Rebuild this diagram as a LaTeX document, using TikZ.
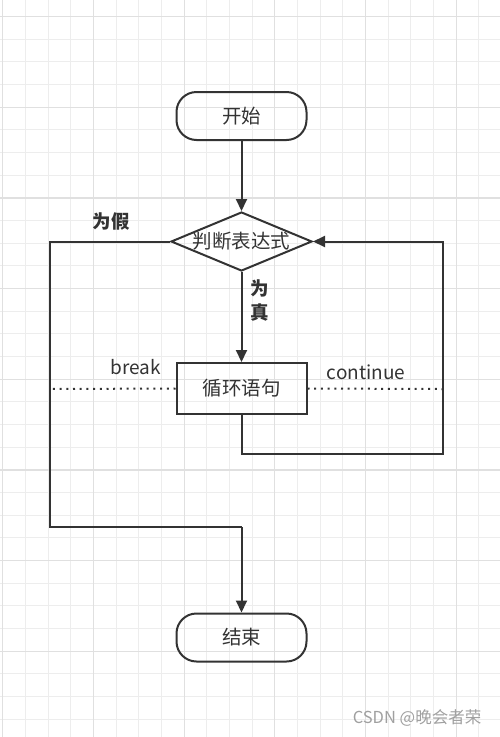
\documentclass[tikz,border=0pt]{standalone}
\usepackage{fontspec}
\setmainfont{Noto Sans CJK SC}
\usetikzlibrary{shapes.geometric,arrows.meta}
\definecolor{ink}{HTML}{333333}
\definecolor{gminor}{HTML}{EDEDED}
\definecolor{gmajor}{HTML}{E0E0E0}
\definecolor{wmgray}{HTML}{A0A0A0}
\tikzset{
  term/.style={draw=ink, line width=2pt, rounded corners=20pt, minimum width=130pt, minimum height=48pt, inner sep=0pt, text=ink, font=\fontsize{19.5}{21}\selectfont},
  proc/.style={draw=ink, line width=2pt, minimum width=130pt, minimum height=51pt, inner sep=0pt, text=ink, font=\fontsize{19.5}{21}\selectfont},
  decide/.style={draw=ink, line width=2pt, diamond, aspect=2.4, minimum width=141pt, minimum height=59pt, inner sep=0pt, text=ink, font=\fontsize{19.5}{21}\selectfont},
  flow/.style={draw=ink, line width=2pt, -{Triangle[length=12pt,width=11pt]}},
  plain/.style={draw=ink, line width=2pt},
  dotline/.style={draw=ink, line width=2pt, dash pattern=on 2pt off 4.7pt},
  lbl/.style={text=ink, font=\fontsize{18.5}{20}\selectfont\bfseries, inner sep=0pt},
  word/.style={text=ink, font=\fontsize{19}{21}\selectfont, inner sep=0pt},
}
\begin{document}
\begin{tikzpicture}[x=1pt,y=-1pt]
\useasboundingbox (0,0) rectangle (500,737);
\fill[white] (0,0) rectangle (500,737);
% grid
\foreach \i in {0,...,22} {
  \draw[gminor, line width=1pt] ({2.8+22.67*\i},0) -- ({2.8+22.67*\i},737);
}
\foreach \i in {0,...,32} {
  \draw[gminor, line width=1pt] (0,{16.5+22.67*(\i-1)}) -- (500,{16.5+22.67*(\i-1)});
}
\foreach \i in {0,...,5} {
  \draw[gmajor, line width=1.3pt] ({2.8+90.68*\i},0) -- ({2.8+90.68*\i},737);
}
\foreach \i in {0,...,8} {
  \draw[gmajor, line width=1.3pt] (0,{16.5+90.68*\i}) -- (500,{16.5+90.68*\i});
}
% nodes
\node[term] (start) at (241.5,116) {开始};
\node[decide] (cond) at (241.5,241.5) {判断表达式};
\node[proc] (body) at (241.5,388.5) {循环语句};
\node[term] (stop) at (241.5,637.5) {结束};
% coordinates
\coordinate (fl) at (50,527);
\coordinate (fm) at (241.5,527);
\coordinate (rb) at (443,454);
\coordinate (bl) at (50,389);
\coordinate (br) at (443,389);
% connectors
\draw[flow] (start) -- (cond);
\draw[flow] (cond) -- (body);
\draw[plain] (cond.west) -| (fl) -- (fm);
\draw[flow] (fm) -- (stop.north);
\draw[flow] (body.south) |- (rb) |- (cond.east);
\draw[dotline] (body.west) -- (bl);
\draw[dotline] (body.east) -- (br);
% labels
\node[lbl] (lf) at (111,222) {为假};
\node[lbl] (lt1) at (260,288) {为};
\node[lbl] (lt2) at (260,312) {真};
\node[word, anchor=base] (lbreak) at (136,374) {break};
\node[word, anchor=base] (lcont) at (366,379) {continue};
\node[text=wmgray, inner sep=0pt, font=\fontsize{16.5}{18}\selectfont] (wmk) at (417,718) {CSDN @晚会者荣};
\end{tikzpicture}
\end{document}
